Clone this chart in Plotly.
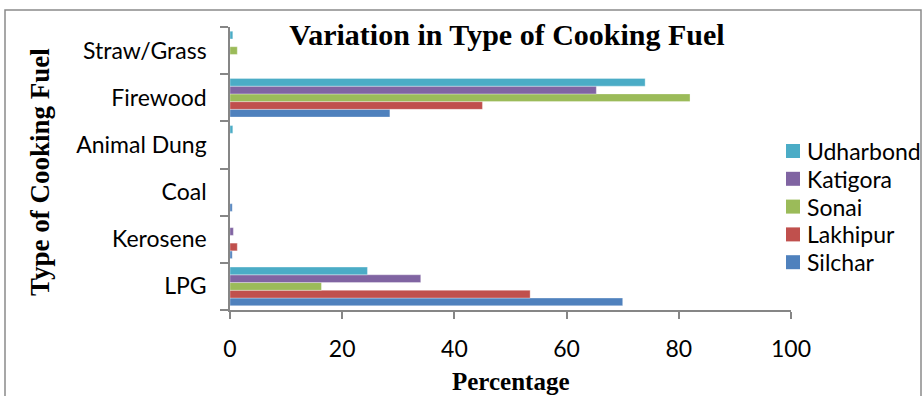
import plotly.graph_objects as go

# Cooking fuel categories (bottom to top on the chart)
fuel_types = ["LPG", "Kerosene", "Coal", "Animal Dung", "Firewood", "Straw/Grass"]

# Share of households (%) using each fuel, by locality
silchar = [70.0, 0.4, 0.4, 0.0, 28.5, 0.0]
lakhipur = [53.5, 1.3, 0.0, 0.0, 45.0, 0.0]
sonai = [16.3, 0.0, 0.0, 0.0, 82.0, 1.3]
katigora = [34.0, 0.6, 0.0, 0.0, 65.3, 0.0]
udharbond = [24.5, 0.0, 0.0, 0.5, 74.0, 0.5]

series = [
    ("Silchar", silchar, "#4F81BD"),
    ("Lakhipur", lakhipur, "#C0504D"),
    ("Sonai", sonai, "#9BBB59"),
    ("Katigora", katigora, "#8064A2"),
    ("Udharbond", udharbond, "#4BACC6"),
]

x_ticks = [0, 20, 40, 60, 80, 100]

W, H = 923, 396
L, R, T, B = 230, 132, 27, 86
pw, ph = W - L - R, H - T - B


def px(xp):
    return (xp - L) / pw


def py(yp):
    return (H - B - yp) / ph


fig = go.Figure()
for name, vals, color in series:
    fig.add_trace(go.Bar(
        y=fuel_types, x=vals, name=name, orientation="h",
        marker=dict(color=color, line=dict(color="rgba(255,255,255,0.55)", width=0.6)),
        showlegend=False,
    ))

sans = "Lato"
serif = "Liberation Serif"
axis_grey = "#868686"

fig.update_layout(
    width=W, height=H,
    margin=dict(l=L, r=R, t=T, b=B, pad=0, autoexpand=False),
    paper_bgcolor="white", plot_bgcolor="white",
    barmode="group", bargap=0.18, bargroupgap=0,
    font=dict(family=sans, size=23, color="black"),
    title=dict(
        text="<b>Variation in Type of Cooking Fuel</b>",
        font=dict(family=serif, size=30, color="black"),
        x=507 / W, xref="container", xanchor="center",
        y=1 - 34 / H, yref="container", yanchor="middle",
    ),
    xaxis=dict(
        range=[0, 100], tickvals=x_ticks, ticktext=[str(v) for v in x_ticks],
        showgrid=False, zeroline=False, showline=True,
        linecolor=axis_grey, linewidth=1.5,
        ticks="outside", ticklen=7, tickwidth=1.5, tickcolor=axis_grey,
        ticklabelstandoff=11, fixedrange=True,
    ),
    yaxis=dict(
        categoryorder="array", categoryarray=fuel_types,
        showgrid=False, zeroline=False, showline=True,
        linecolor=axis_grey, linewidth=1.5,
        ticks="outside", ticklen=8, tickwidth=1.5, tickcolor=axis_grey,
        tickson="boundaries", ticklabelstandoff=17, fixedrange=True,
    ),
    showlegend=False,
)

# Legend: Udharbond on top down to Silchar
legend_top = 151
legend_step = 27.8
for i, (name, _, color) in enumerate(reversed(series)):
    cy = legend_top + i * legend_step
    fig.add_shape(
        type="rect", xref="paper", yref="paper",
        x0=px(786), x1=px(800), y0=py(cy + 7), y1=py(cy - 7),
        line=dict(width=0), fillcolor=color,
    )
    fig.add_annotation(
        text=name, x=px(805), y=py(cy), xref="paper", yref="paper",
        xanchor="left", yanchor="middle", showarrow=False,
        font=dict(family=sans, size=23, color="black"),
    )

# Axis titles
fig.add_annotation(
    text="<b>Type of Cooking Fuel</b>", textangle=-90,
    x=px(40), y=py(172), xref="paper", yref="paper",
    xanchor="center", yanchor="middle", showarrow=False,
    font=dict(family=serif, size=27, color="black"),
)
fig.add_annotation(
    text="<b>Percentage</b>",
    x=px(511), y=py(381), xref="paper", yref="paper",
    xanchor="center", yanchor="middle", showarrow=False,
    font=dict(family=serif, size=25, color="black"),
)

# Chart frame
fig.add_shape(
    type="rect", xref="paper", yref="paper",
    x0=px(5), x1=px(921), y0=py(420), y1=py(10),
    line=dict(color="#8a8a8a", width=1.5), fillcolor="rgba(0,0,0,0)", layer="below",
)

fig.write_html("out.html")
